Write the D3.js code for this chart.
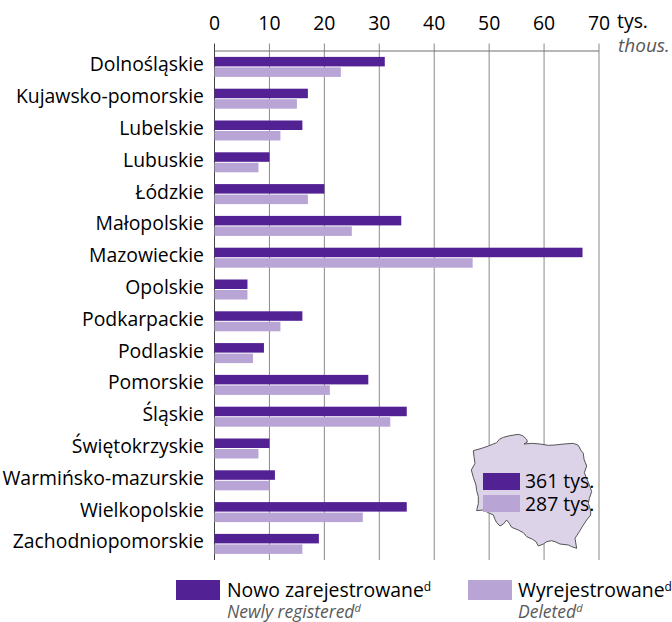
<!DOCTYPE html>
<html>
<head>
<meta charset="utf-8">
<script src="https://cdn.jsdelivr.net/npm/d3@7"></script>
<style>
html, body { margin: 0; padding: 0; background: #fff; }
text { font-family: "Open Sans", sans-serif; fill: #000; }
.en { fill: #595959; font-style: italic; }
</style>
</head>
<body>
<svg width="672" height="622"></svg>
<script>
var regions = ["Dolnośląskie", "Kujawsko-pomorskie", "Lubelskie", "Lubuskie", "Łódzkie", "Małopolskie", "Mazowieckie", "Opolskie", "Podkarpackie", "Podlaskie", "Pomorskie", "Śląskie", "Świętokrzyskie", "Warmińsko-mazurskie", "Wielkopolskie", "Zachodniopomorskie"];
var registered = [31, 17, 16, 10, 20, 34, 67, 6, 16, 9, 28, 35, 10, 11, 35, 19];
var deleted = [23, 15, 12, 8, 17, 25, 47, 6, 12, 7, 21, 32, 8, 10, 27, 16];
var ticks = [0, 10, 20, 30, 40, 50, 60, 70];

var outline = [[100,92],[125,85],[145,78],[170,68],[178,58],[190,52],[210,47],[235,43],[248,47],[260,58],[262,66],[252,72],[275,70],[300,72],[325,76],[345,75],[372,72],[400,70],[415,76],[422,90],[430,100],[432,118],[440,138],[433,158],[440,175],[447,192],[455,215],[448,235],[445,250],[452,272],[452,285],[440,300],[428,318],[418,335],[405,355],[410,385],[395,380],[385,375],[360,372],[345,365],[335,362],[320,365],[310,372],[295,378],[288,365],[278,358],[260,350],[250,338],[235,330],[215,322],[208,310],[200,300],[190,312],[180,318],[170,308],[165,298],[160,285],[145,278],[130,270],[110,272],[115,250],[115,230],[110,212],[108,195],[100,172],[94,150],[105,130],[102,110]];

var DARK = "#522194", LIGHT = "#b9a5d5", MAPFILL = "#dcd3e8";
var FS = 19.4;

var svg = d3.select("svg");

var x = d3.scaleLinear().domain([0, 70]).range([214.5, 599]);
var y = d3.scaleBand().domain(regions).range([51, 559.8]);
var mapX = d3.scaleLinear().domain([0, 696]).range([440, 672]);
var mapY = d3.scaleLinear().domain([0, 606]).range([420, 622]);

// gridlines and top axis
svg.append("g").selectAll("line").data(ticks).enter().append("line")
    .attr("x1", d => x(d)).attr("x2", d => x(d))
    .attr("y1", 43.5).attr("y2", 560)
    .attr("stroke", d => d == 0 ? "#444" : "#8a8a8a").attr("stroke-width", 1);
svg.append("line").attr("x1", x(0)).attr("x2", x(70)).attr("y1", 51).attr("y2", 51)
    .attr("stroke", "#6e6e6e").attr("stroke-width", 1);
svg.append("g").selectAll("text").data(ticks).enter().append("text")
    .attr("x", d => x(d)).attr("y", 30).attr("text-anchor", "middle")
    .attr("font-size", FS).text(d => d);
svg.append("text").attr("x", 617).attr("y", 28).attr("font-size", FS).text("tys.");
svg.append("text").attr("class", "en").attr("x", 618).attr("y", 52).attr("font-size", 19).text("thous.");

// bars
var mid = y.bandwidth() / 2;
svg.append("g").selectAll("rect").data(regions).enter().append("rect")
    .attr("x", x(0)).attr("y", d => y(d) + mid - 10).attr("height", 9.5)
    .attr("width", (d, i) => x(registered[i]) - x(0)).attr("fill", DARK);
svg.append("g").selectAll("rect").data(regions).enter().append("rect")
    .attr("x", x(0)).attr("y", d => y(d) + mid + 0.5).attr("height", 9.5)
    .attr("width", (d, i) => x(deleted[i]) - x(0)).attr("fill", LIGHT);

svg.append("g").selectAll("text").data(regions).enter().append("text")
    .attr("x", 204).attr("y", d => y(d) + mid + 4.5)
    .attr("text-anchor", "end").attr("font-size", FS).text(d => d);

// map with totals
svg.append("path").datum(outline)
    .attr("d", d3.line().x(d => mapX(d[0])).y(d => mapY(d[1])).curve(d3.curveLinearClosed))
    .attr("fill", MAPFILL).attr("stroke", "#555").attr("stroke-width", 1);

svg.append("rect").attr("x", 483).attr("y", 473).attr("width", 37).attr("height", 17).attr("fill", DARK);
svg.append("rect").attr("x", 483).attr("y", 495).attr("width", 37).attr("height", 17).attr("fill", LIGHT);
svg.append("text").attr("x", 525).attr("y", 488).attr("font-size", FS).text("361 tys.");
svg.append("text").attr("x", 525).attr("y", 511).attr("font-size", FS).text("287 tys.");

// legend
function legendItem(rx, tx, color, pl, en) {
    svg.append("rect").attr("x", rx).attr("y", 580).attr("width", 44).attr("height", 20).attr("fill", color);
    var a = svg.append("text").attr("x", tx).attr("y", 597).attr("font-size", FS).text(pl);
    a.append("tspan").attr("dy", -6).attr("font-size", 12).text("d");
    var b = svg.append("text").attr("class", "en").attr("x", tx).attr("y", 617.5).attr("font-size", 17.5).text(en);
    b.append("tspan").attr("dy", -6).attr("font-size", 11).text("d");
}
legendItem(176, 227, DARK, "Nowo zarejestrowane", "Newly registered");
legendItem(468, 518, LIGHT, "Wyrejestrowane", "Deleted");
</script>
</body>
</html>
